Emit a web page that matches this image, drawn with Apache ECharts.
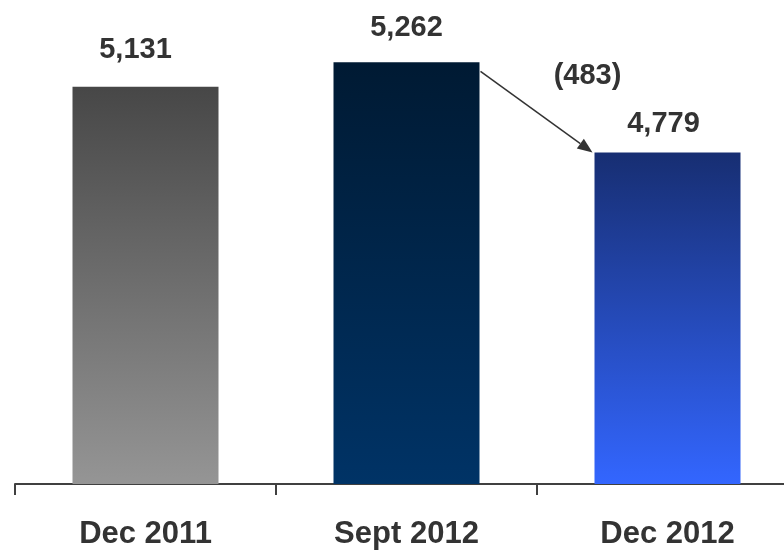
<!DOCTYPE html>
<html>
<head>
<meta charset="utf-8">
<script src="https://cdn.jsdelivr.net/npm/echarts@6/dist/echarts.min.js"></script>
<style>
  html, body { margin: 0; padding: 0; background: #fff; overflow: hidden; }
  /* 画布比窗口宽, 轴右端被裁掉 */
  #main { width: 798px; height: 551px; }
</style>
</head>
<body>
<div id="main"></div>
<script>
// data
var categories = ['Dec 2011', 'Sept 2012', 'Dec 2012'];
var values = [5131, 5262, 4779];
var changeLabel = '(483)';

// 柱子渐变色 (top, bottom)
var barColors = [
  ['#474747', '#959595'],
  ['#001a33', '#003366'],
  ['#172e72', '#3366ff']
];

var BAR_W = 146;
var FONT = '"Liberation Sans", Arial, sans-serif';

var chart = echarts.init(document.getElementById('main'));

// 标签微调
var labelTweaks = [
  { distance: 22, offset: [-10, 0] },
  { distance: 20, offset: [0, 0] },
  { distance: 14, offset: [-4, 0] }
];

var seriesData = values.map(function (v, i) {
  return {
    value: v,
    itemStyle: {
      color: new echarts.graphic.LinearGradient(0, 0, 0, 1, [
        { offset: 0, color: barColors[i][0] },
        { offset: 1, color: barColors[i][1] }
      ])
    },
    label: labelTweaks[i]
  };
});

chart.setOption({
  animation: false,
  backgroundColor: '#fff',
  grid: { left: 15, top: 18, right: 0, bottom: 67, containLabel: false },
  xAxis: {
    type: 'category',
    data: categories,
    axisLine: { lineStyle: { color: '#404040', width: 2 } },
    axisTick: { show: true, length: 11, lineStyle: { color: '#404040', width: 2 } },
    axisLabel: {
      margin: 35,
      color: '#333',
      fontSize: 31,
      fontWeight: 'bold',
      fontFamily: FONT
    }
  },
  yAxis: {
    type: 'value',
    min: 3000,
    max: 5500,
    show: false,
    splitLine: { show: false }
  },
  series: [{
    type: 'bar',
    barWidth: BAR_W,
    data: seriesData,
    label: {
      show: true,
      position: 'top',
      color: '#333',
      fontSize: 29,
      fontWeight: 'bold',
      fontFamily: FONT,
      formatter: function (p) { return p.value.toLocaleString('en-US'); }
    }
  }]
});

// 箭头: Sept 2012 柱右上角 -> Dec 2012 柱左上角
var p1 = chart.convertToPixel({ seriesIndex: 0 }, [categories[1], values[1]]);
var p2 = chart.convertToPixel({ seriesIndex: 0 }, [categories[2], values[2]]);
var x1 = p1[0] + BAR_W / 2 + 1, y1 = p1[1] + 9;
var x2 = p2[0] - BAR_W / 2 - 2, y2 = p2[1];
var ang = Math.atan2(y2 - y1, x2 - x1);
var headLen = 15, headW = 6;
var bx = x2 - headLen * Math.cos(ang), by = y2 - headLen * Math.sin(ang);
var nx = -Math.sin(ang) * headW, ny = Math.cos(ang) * headW;

chart.setOption({
  graphic: [
    {
      type: 'line',
      shape: { x1: x1, y1: y1, x2: bx, y2: by },
      style: { stroke: '#333', lineWidth: 1.5 }
    },
    {
      type: 'polygon',
      shape: { points: [[x2, y2], [bx + nx, by + ny], [bx - nx, by - ny]] },
      style: { fill: '#333' }
    },
    {
      type: 'text',
      x: x2 - 5,
      y: y2 - 76,
      style: {
        text: changeLabel,
        fill: '#333',
        font: 'bold 29px ' + FONT,
        align: 'center',
        verticalAlign: 'middle'
      }
    }
  ]
});
</script>
</body>
</html>
